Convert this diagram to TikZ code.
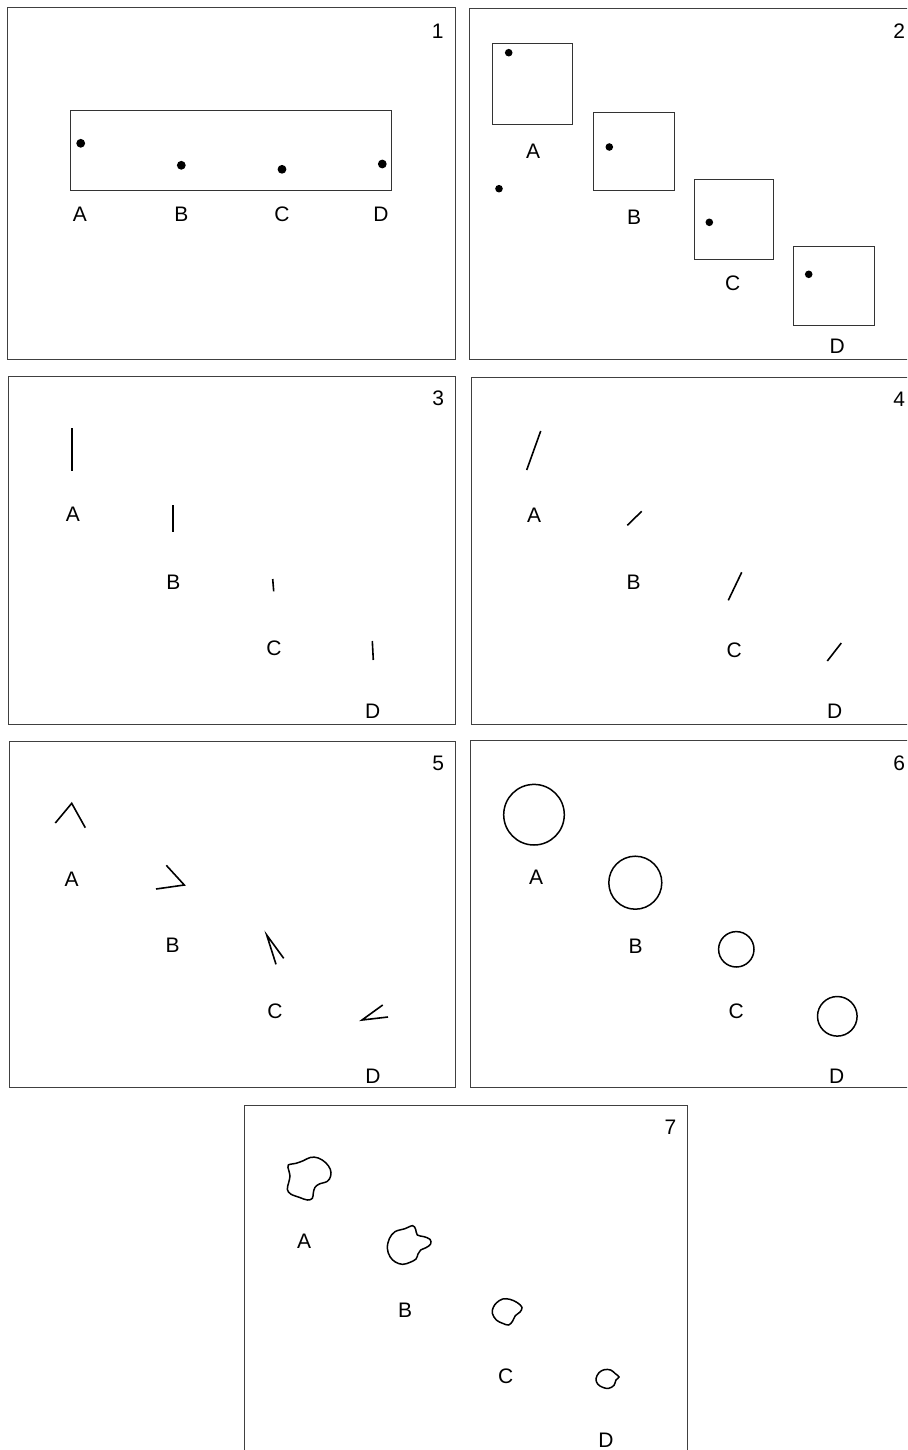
\documentclass[tikz,border=0pt]{standalone}
\usepackage{fontspec}
\setmainfont{Liberation Sans}
\begin{document}
\begin{tikzpicture}[x=1pt,y=-1pt,
  frame/.style={draw=black!75,line width=1pt},
  box/.style={draw=black!80,line width=1pt},
  stroke/.style={draw=black,line width=1.6pt,line join=miter},
  ring/.style={draw=black,line width=1.5pt},
  lbl/.style={inner sep=0pt,font=\fontsize{21}{25}\selectfont},
]
\useasboundingbox (0,0) rectangle (907,1450);
\begin{scope}
\clip (0,0) rectangle (907,1450);
% frames
\draw[frame] (7.5,7.5) rectangle (455,359.5);
\draw[frame] (469.5,8.5) rectangle (930,359.5);
\draw[frame] (8,376) rectangle (455,724.5);
\draw[frame] (471,377) rectangle (930,724.5);
\draw[frame] (9,741) rectangle (455.5,1087.5);
\draw[frame] (470.5,740) rectangle (930,1087);
\draw[frame] (244,1105) rectangle (687.5,1470);

% panel numbers
\node[lbl] (n1) at (437.7,31) {1};
\node[lbl] (n2) at (899.3,31) {2};
\node[lbl] (n3) at (438.3,398.3) {3};
\node[lbl] (n4) at (899.3,399.3) {4};
\node[lbl] (n5) at (438.3,763.3) {5};
\node[lbl] (n6) at (899.3,763.3) {6};
\node[lbl] (n7) at (670.5,1127.5) {7};

% ---------- panel 1
\draw[box] (70.7,110.7) rectangle (391.3,190.3);
\fill (80.7,143.3) circle (4.4);
\fill (181.3,165.3) circle (4.4);
\fill (282,169.3) circle (4.4);
\fill (382.3,164) circle (4.4);
\node[lbl] (p1A) at (80,214) {A};
\node[lbl] (p1B) at (181.3,214) {B};
\node[lbl] (p1C) at (282,214) {C};
\node[lbl] (p1D) at (381,214) {D};

% ---------- panel 2
\draw[box] (492.3,43.3) rectangle (572.3,124.3);
\draw[box] (593.3,112.7) rectangle (674,190.7);
\draw[box] (694.3,180) rectangle (773.3,259.3);
\draw[box] (793.3,246.3) rectangle (874,325.7);
\fill (508.7,52.7) circle (3.8);
\fill (499,188.7) circle (3.8);
\fill (609.3,147) circle (3.8);
\fill (709.3,222.3) circle (3.8);
\fill (808.7,274.3) circle (3.8);
\node[lbl] (p2A) at (533,151) {A};
\node[lbl] (p2B) at (634,217.7) {B};
\node[lbl] (p2C) at (732.7,283.3) {C};
\node[lbl] (p2D) at (837.3,346.7) {D};

% ---------- panel 3
\draw[stroke] (71.7,428.3) -- (71.7,470.7);
\draw[stroke] (172.7,505) -- (172.7,532.3);
\draw[stroke] (272.7,579) -- (273.7,591.3);
\draw[stroke] (372.3,641) -- (373.3,660);
\node[lbl] (p3A) at (73,514) {A};
\node[lbl] (p3B) at (173.3,582.3) {B};
\node[lbl] (p3C) at (274,648.3) {C};
\node[lbl] (p3D) at (372.7,711.7) {D};

% ---------- panel 4
\draw[stroke] (540.7,431) -- (526.7,470);
\draw[stroke] (641.7,511.3) -- (627.3,525.3);
\draw[stroke] (741.7,572.3) -- (728.3,600.3);
\draw[stroke] (841.3,643) -- (827.3,661);
\node[lbl] (p4A) at (534,515) {A};
\node[lbl] (p4B) at (633.7,582.7) {B};
\node[lbl] (p4C) at (734.3,650) {C};
\node[lbl] (p4D) at (834.7,711.7) {D};

% ---------- panel 5
\draw[stroke] (55.3,823) -- (71.7,803.3) -- (85.3,827.7);
\draw[stroke] (166.3,865.3) -- (184.3,885) -- (156,889);
\draw[stroke] (276,964.3) -- (266.7,935) -- (283.7,958.3);
\draw[stroke] (382.7,1005) -- (362,1020) -- (388,1017);
\node[lbl] (p5A) at (71.7,879) {A};
\node[lbl] (p5B) at (172.7,945.7) {B};
\node[lbl] (p5C) at (275,1011.7) {C};
\node[lbl] (p5D) at (373,1076) {D};

% ---------- panel 6
\draw[ring] (534,814.7) circle (30.3);
\draw[ring] (635.3,882.7) circle (26.5);
\draw[ring] (736.3,949.3) circle (17.7);
\draw[ring] (837.3,1016.3) circle (19.8);
\node[lbl] (p6A) at (536,877.3) {A};
\node[lbl] (p6B) at (635.7,946) {B};
\node[lbl] (p6C) at (736.3,1011.7) {C};
\node[lbl] (p6D) at (836.7,1076) {D};

% ---------- panel 7
\begin{scope}[xshift=270pt,yshift=-1140pt,x=0.33333pt,y=-0.33333pt]
\draw[ring] plot[smooth cycle,tension=0.6] coordinates {
 (55,75) (78,70) (100,62) (122,52) (145,54) (167,68) (181,88) (182,108)
 (172,124) (148,132) (135,142) (130,158) (127,175) (112,180) (88,172)
 (62,162) (52,148) (56,128) (60,108) (56,90)};
\draw[ring] plot[smooth cycle,tension=0.6] coordinates {
 (375,275) (405,266) (428,257) (437,268) (442,285) (462,290) (480,298)
 (482,312) (468,323) (452,330) (444,342) (438,357) (420,367) (398,373)
 (376,366) (360,350) (352,325) (358,296)};
\draw[ring] plot[smooth cycle,tension=0.6] coordinates {
 (680,488) (698,477) (720,478) (742,488) (756,502) (750,516) (736,527)
 (728,543) (716,555) (698,550) (679,540) (667,520) (670,502)};
\draw[ring] plot[smooth cycle,tension=0.6] coordinates {
 (987,698) (1003,689) (1022,690) (1036,701) (1047,711) (1038,720)
 (1032,736) (1016,745) (998,742) (983,732) (978,716)};
\end{scope}
\node[lbl] (p7A) at (304,1241.7) {A};
\node[lbl] (p7B) at (405,1310) {B};
\node[lbl] (p7C) at (505.7,1376.7) {C};
\node[lbl] (p7D) at (606,1440) {D};
\end{scope}
\end{tikzpicture}
\end{document}
